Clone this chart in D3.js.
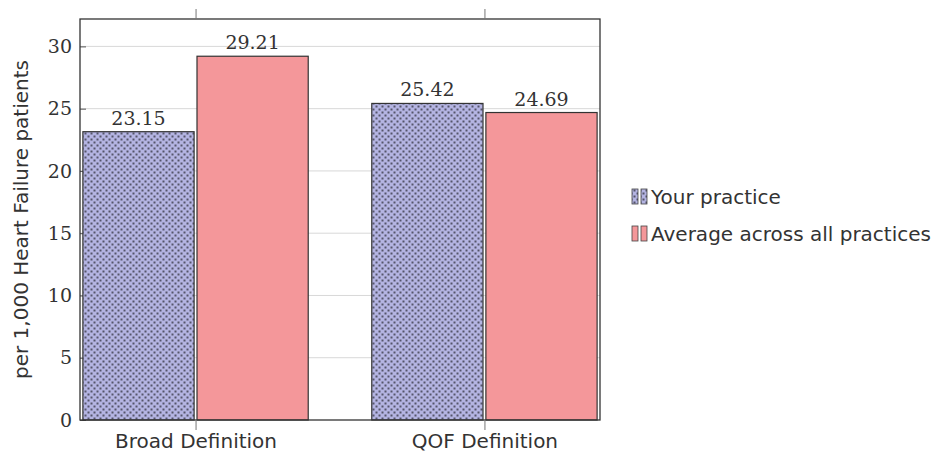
<!DOCTYPE html>
<html><head><meta charset="utf-8">
<script src="https://cdn.jsdelivr.net/npm/d3@7"></script>
<style>body{margin:0;background:#fff}svg{display:block}</style>
</head><body><svg id="c" width="933" height="454"></svg>
<script>
const categories = ["Broad Definition", "QOF Definition"];
const seriesNames = ["Your practice", "Average across all practices"];
const yourPractice = [23.15, 25.42];
const averageAll = [29.21, 24.69];
const yTicks = [0, 5, 10, 15, 20, 25, 30];

const svg = d3.select("#c");
const L = 80, R = 600, T = 19, B = 420;
const x = d3.scaleLinear().domain([-0.4, 1.4]).range([L, R]);
const y = d3.scaleLinear().domain([0, 32.2]).range([B, T]);
const serif = "'DejaVu Serif', 'Liberation Serif', serif";
const sans = "'DejaVu Sans', sans-serif";

const defs = svg.append("defs");
const pat = defs.append("pattern").attr("id", "dots").attr("patternUnits", "userSpaceOnUse")
  .attr("width", 6).attr("height", 6);
pat.append("rect").attr("width", 6).attr("height", 6).attr("fill", "#b4b4e2");
pat.append("rect").attr("x", 0.5).attr("y", 0.5).attr("width", 2).attr("height", 2).attr("fill", "#55556a");
pat.append("rect").attr("x", 3.5).attr("y", 3.5).attr("width", 2).attr("height", 2).attr("fill", "#55556a");

// grid
svg.append("g").selectAll("line").data(yTicks.filter(d => d > 0)).join("line")
  .attr("x1", L).attr("x2", R).attr("y1", d => y(d)).attr("y2", d => y(d))
  .attr("stroke", "#d8d8d8").attr("stroke-width", 1);

// y axis ticks & labels
const yAxis = svg.append("g").attr("transform", `translate(${L},0)`)
  .call(d3.axisLeft(y).tickValues(yTicks).tickSize(-6).tickPadding(8).tickFormat(d3.format("d")));
yAxis.select(".domain").remove();
yAxis.selectAll("line").attr("stroke", "#555");
yAxis.selectAll("text").attr("font-family", serif).attr("font-size", 19).attr("fill", "#333");

// bars
const w = 0.385;
const series = [
  { vals: yourPractice, off: -w / 2 - 0.005, fill: "url(#dots)" },
  { vals: averageAll, off: w / 2 + 0.005, fill: "#f4979a" }
];
series.forEach(s => {
  svg.append("g").selectAll("rect").data(s.vals).join("rect")
    .attr("x", (d, i) => x(i + s.off - w / 2))
    .attr("width", x(w) - x(0))
    .attr("y", d => y(d)).attr("height", d => B - y(d))
    .attr("fill", s.fill).attr("stroke", "#333").attr("stroke-width", 1.2);
  svg.append("g").selectAll("text").data(s.vals).join("text")
    .attr("x", (d, i) => x(i + s.off)).attr("y", d => y(d) - 7)
    .attr("text-anchor", "middle").attr("font-family", serif).attr("font-size", 19).attr("fill", "#333")
    .text(d => d3.format(".2f")(d));
});

// frame
svg.append("rect").attr("x", L).attr("y", T).attr("width", R - L).attr("height", B - T)
  .attr("fill", "none").attr("stroke", "#333").attr("stroke-width", 1.3);

// x category ticks
const xb = svg.append("g").attr("transform", `translate(0,${B})`)
  .call(d3.axisBottom(x).tickValues([0, 1]).tickSize(10).tickPadding(0).tickFormat((d) => categories[d]));
xb.select(".domain").remove();
xb.selectAll("line").attr("stroke", "#777");
xb.selectAll("text").attr("font-family", sans).attr("font-size", 20).attr("fill", "#333")
  .attr("y", 28).attr("dy", 0);
const xt = svg.append("g").attr("transform", `translate(0,${T})`)
  .call(d3.axisTop(x).tickValues([0, 1]).tickSize(10).tickFormat(""));
xt.select(".domain").remove();
xt.selectAll("line").attr("stroke", "#777");

// y title
svg.append("text").attr("transform", `translate(28,${(T + B) / 2}) rotate(-90)`)
  .attr("text-anchor", "middle").attr("font-family", sans).attr("font-size", 20).attr("fill", "#333")
  .text("per 1,000 Heart Failure patients");

// legend
const lg = svg.append("g");
const fills = ["url(#dots)", "#f4979a"];
seriesNames.forEach((n, i) => {
  const cy = 197 + i * 37;
  [632, 641].forEach(xx => lg.append("rect").attr("x", xx).attr("y", cy - 8).attr("width", 6).attr("height", 15)
    .attr("fill", fills[i]).attr("stroke", "#444").attr("stroke-width", 0.8));
  lg.append("text").attr("x", 651).attr("y", cy + 7).attr("font-family", sans).attr("font-size", 20)
    .attr("fill", "#333").text(n);
});
</script></body></html>
